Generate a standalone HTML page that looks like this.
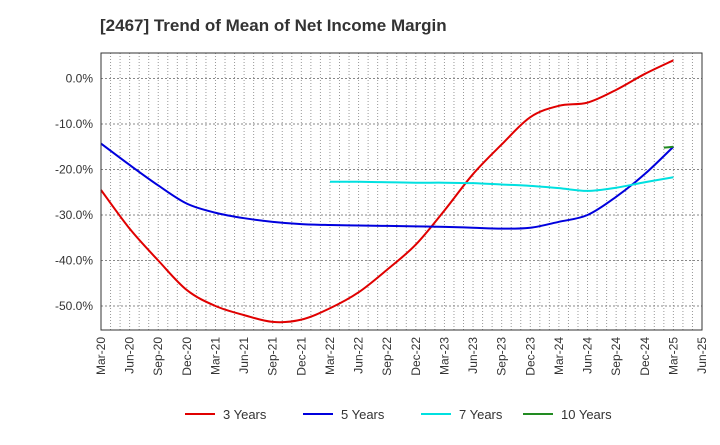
<!DOCTYPE html>
<html><head><meta charset="utf-8"><style>
body{margin:0;background:#fff;font-family:"Liberation Sans",sans-serif}
</style></head><body>
<svg id="c" width="720" height="440" xmlns="http://www.w3.org/2000/svg" font-family="Liberation Sans, sans-serif">
<text x="100" y="31" font-size="17" font-weight="bold" fill="#333">[2467]  Trend of Mean of Net Income Margin</text>
<g id="grid"></g><g id="series"></g><g id="axes"></g><g id="legend"></g>
</svg>
<script>
const xLabels=["Mar-20","Jun-20","Sep-20","Dec-20","Mar-21","Jun-21","Sep-21","Dec-21","Mar-22","Jun-22","Sep-22","Dec-22","Mar-23","Jun-23","Sep-23","Dec-23","Mar-24","Jun-24","Sep-24","Dec-24","Mar-25","Jun-25"];
const yTicks=[0,-10,-20,-30,-40,-50];
const s3=[-24.5,-33,-40,-46.5,-50,-52,-53.5,-53,-50.5,-47,-42,-36.5,-29,-21,-14.5,-8.5,-6,-5.3,-2.5,1,4];
const s5=[-14.3,-19,-23.5,-27.5,-29.5,-30.7,-31.5,-32,-32.2,-32.3,-32.4,-32.5,-32.6,-32.8,-33,-32.8,-31.5,-30,-26,-21,-15];
const s7Start=8;
const s7=[-22.7,-22.7,-22.8,-22.9,-22.9,-23,-23.3,-23.6,-24.1,-24.7,-24,-22.8,-21.7];
const s10Months=[59,60];
const s10=[-15.2,-15];
const L=101,R=702,T=53,B=330;
const X=m=>L+(R-L)*m/63;
const Y=v=>78.5-v*4.55;
const ns="http://www.w3.org/2000/svg";
function mk(t,a,p){const e=document.createElementNS(ns,t);for(const k in a)e.setAttribute(k,a[k]);p.appendChild(e);return e;}
const g=document.getElementById('grid'),ax=document.getElementById('axes'),se=document.getElementById('series'),lg=document.getElementById('legend');
for(let m=1;m<63;m++){const l=mk('line',{x1:X(m),x2:X(m),y1:T,y2:B,stroke:'#999','stroke-dasharray':'1,2','stroke-width':1},g);}
yTicks.forEach(v=>{const l=mk('line',{x1:L,x2:R,y1:Y(v),y2:Y(v),stroke:'#888','stroke-dasharray':'2,2'},g);
const t=mk('text',{x:L-8,y:Y(v)+4,'text-anchor':'end','font-size':12,fill:'#333'},ax);t.textContent=v.toFixed(1)+'%';});
xLabels.forEach((s,i)=>{const x=X(i*3);const t=mk('text',{transform:`translate(${x+4},${B+7}) rotate(-90)`,'text-anchor':'end','font-size':12,fill:'#333'},ax);t.textContent=s;});
const fr=mk('rect',{x:L,y:T,width:R-L,height:B-T,fill:'none',stroke:'#333'},ax);
function path(pts){let d=`M${pts[0][0]},${pts[0][1]}`;for(let i=0;i<pts.length-1;i++){const p0=pts[i-1]||pts[i],p1=pts[i],p2=pts[i+1],p3=pts[i+2]||p2;d+=` C${p1[0]+(p2[0]-p0[0])/6},${p1[1]+(p2[1]-p0[1])/6} ${p2[0]-(p3[0]-p1[0])/6},${p2[1]-(p3[1]-p1[1])/6} ${p2[0]},${p2[1]}`;}return d;}
function line(pts,c,n){const p=mk('path',{d:path(pts),fill:'none',stroke:c,'stroke-width':2},se);}
line(s3.map((v,i)=>[X(i*3),Y(v)]),'#e00000','series-3-years');
line(s5.map((v,i)=>[X(i*3),Y(v)]),'#0000dd','series-5-years');
line(s7.map((v,i)=>[X((s7Start+i)*3),Y(v)]),'#00e0e0','series-7-years');
line(s10.map((v,i)=>[X(s10Months[i]),Y(v)]),'#228B22','series-10-years');
[["3 Years","#e00000",185],["5 Years","#0000dd",303],["7 Years","#00e0e0",421],["10 Years","#228B22",523]].forEach(([n,c,x])=>{
const l=mk('line',{x1:x,x2:x+30,y1:414,y2:414,stroke:c,'stroke-width':2},lg);
const t=mk('text',{x:x+38,y:419,'font-size':13,fill:'#333'},lg);t.textContent=n;});
</script>
</body></html>
